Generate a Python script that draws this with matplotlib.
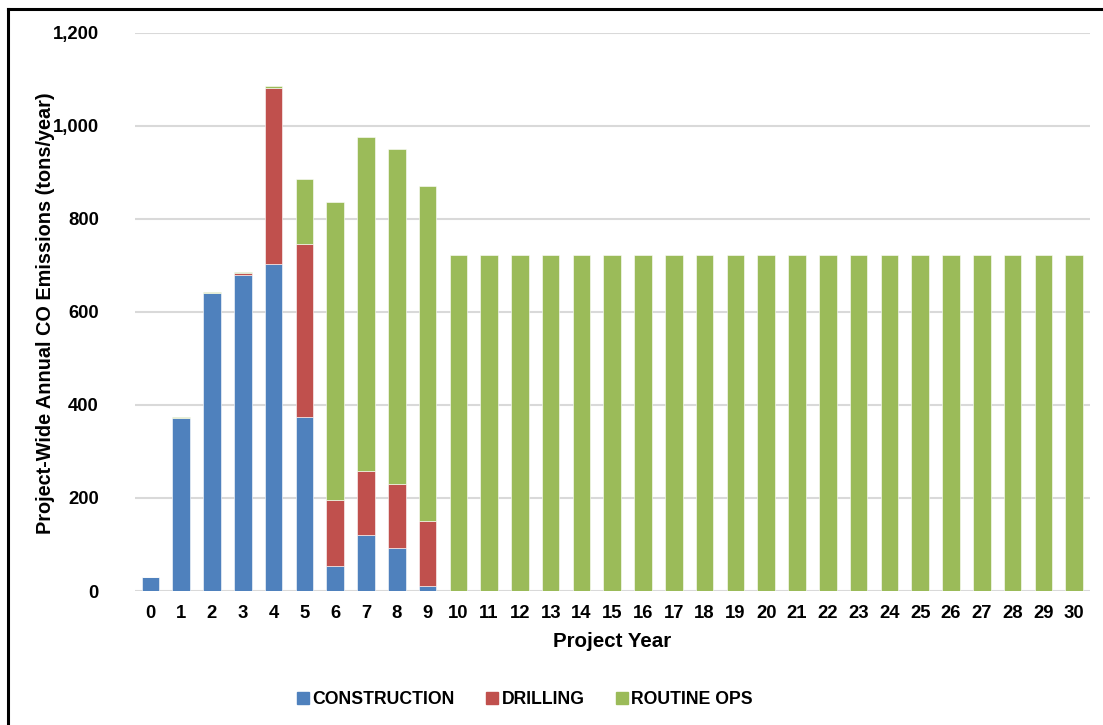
import matplotlib
matplotlib.use("Agg")
import matplotlib.pyplot as plt
from matplotlib.lines import Line2D
from matplotlib.ticker import FuncFormatter

plt.rcParams["font.family"] = ["Liberation Sans", "DejaVu Sans"]
plt.rcParams["font.weight"] = "bold"

years = list(range(31))
construction = [31, 371, 640, 679, 704, 373, 54, 120, 93, 11] + [0] * 21
drilling = [0, 0, 0, 4, 377, 373, 142, 138, 138, 139] + [0] * 21
routine_ops = [0, 3, 3, 2, 4, 139, 641, 719, 719, 721] + [722] * 21

series_names = ["CONSTRUCTION", "DRILLING", "ROUTINE OPS"]
series_colors = ["#4F81BD", "#C0504D", "#9BBB59"]

fig = plt.figure(figsize=(11.03, 7.25), dpi=100)
ax = fig.add_axes([0.1224, 0.1848, 0.8654, 0.770])

bottom = [0] * len(years)
for values, name, color in zip([construction, drilling, routine_ops], series_names, series_colors):
    ax.bar(years, values, width=0.57, bottom=bottom, color=color, label=name,
           edgecolor="white", linewidth=0.4, zorder=3)
    bottom = [b + v for b, v in zip(bottom, values)]

ax.set_xlim(-0.5, 30.5)
ax.set_ylim(0, 1200)
ax.set_yticks(range(0, 1201, 200))
ax.yaxis.set_major_formatter(FuncFormatter(lambda v, p: f"{int(v):,}"))
ax.set_xticks(years)
ax.grid(axis="y", color="#d9d9d9", linewidth=1.5, zorder=0)
for s in ax.spines.values():
    s.set_visible(False)
ax.tick_params(axis="both", length=0, labelsize=13.3)
ax.tick_params(axis="y", pad=26)
ax.tick_params(axis="x", pad=10)

ax.set_xlabel("Project Year", fontsize=14.8, fontweight="bold", labelpad=7)
fig.text(46 / 1103, 1 - 313 / 725, "Project-Wide Annual CO Emissions (tons/year)",
         rotation=90, ha="center", va="center", fontsize=14.3, fontweight="bold")

handles = [Line2D([], [], marker="s", linestyle="none", markersize=8,
                  markerfacecolor=c, markeredgecolor=c) for c in series_colors]
fig.legend(handles, series_names, loc="center", bbox_to_anchor=(0.4746, 1 - 700 / 725),
           ncol=3, frameon=False, handletextpad=0.05,
           columnspacing=1.6, handlelength=1.0, prop={"weight": "bold", "size": 12.7})

# outer frame (top and left edges)
fig.add_artist(Line2D([8 / 1103, 1.01], [1 - 9 / 725, 1 - 9 / 725], color="black",
                      linewidth=2.2, transform=fig.transFigure))
fig.add_artist(Line2D([8 / 1103, 8 / 1103], [-0.01, 1 - 9 / 725], color="black",
                      linewidth=2.2, transform=fig.transFigure))

fig.savefig("out.png", dpi=100)
